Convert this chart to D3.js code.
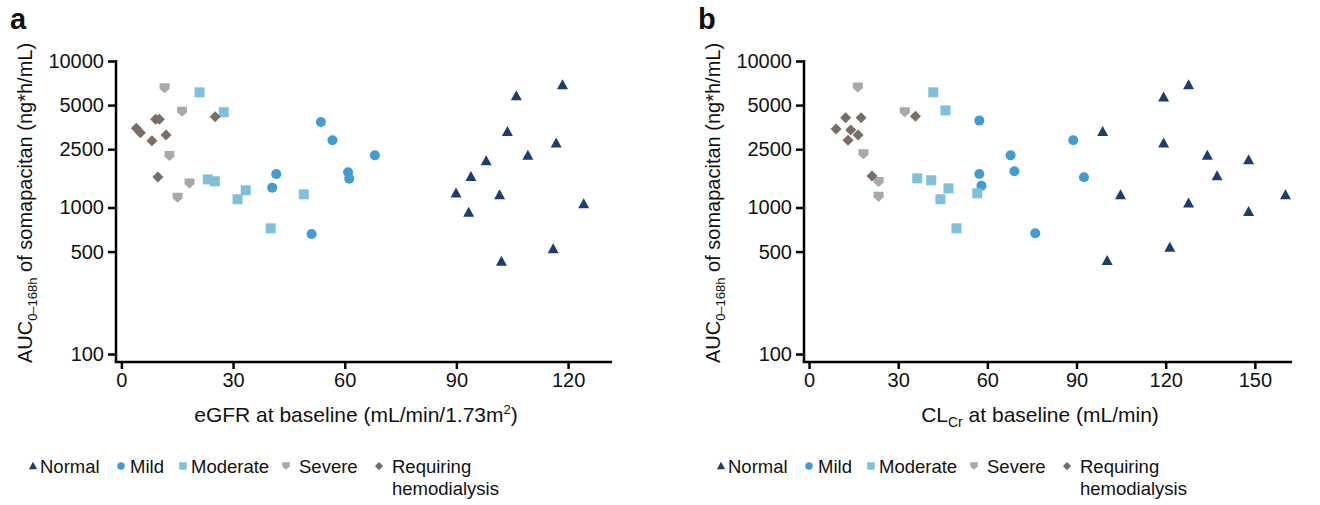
<!DOCTYPE html>
<html>
<head>
<meta charset="utf-8">
<script src="https://cdn.jsdelivr.net/npm/d3@7"></script>
<style>
  body { margin: 0; background: #fff; }
  svg text { font-family: "Liberation Sans", Arial, sans-serif; fill: #111; }
</style>
</head>
<body>
<div id="chart"></div>
<script>
// groups + legend labels
const groups = ["Normal", "Mild", "Moderate", "Severe", "Requiring hemodialysis"];
const colors = ["#1e3c6e", "#409cd3", "#7fc0da", "#a9a9a9", "#7a6d66"];

const yTicks = [100, 500, 1000, 2500, 5000, 10000];
const xTicksA = [0, 30, 60, 90, 120];
const xTicksB = [0, 30, 60, 90, 120, 150];

// panel a: [eGFR, AUC]
const normalA = [[118.5, 6850], [106.1, 5770], [103.7, 3290], [116.8, 2740], [109.2, 2260], [98.0, 2075],
  [93.9, 1620], [89.9, 1250], [101.6, 1217], [124.2, 1057], [93.3, 922], [116.0, 521], [102.1, 427]];
const mildA = [[41.6, 1690], [40.5, 1366], [53.6, 3835], [56.7, 2877], [68.1, 2270], [60.9, 1738], [61.2, 1574], [51.1, 659]];
const moderateA = [[21.0, 6110], [27.5, 4470], [23.2, 1556], [25.1, 1510], [33.4, 1310], [31.2, 1137], [40.1, 721], [49.0, 1230]];
const severeA = [[11.6, 6520], [16.3, 4510], [12.9, 2250], [18.3, 1460], [15.1, 1167]];
const dialysisA = [[9.2, 4000], [10.2, 4000], [25.2, 4170], [4.0, 3475], [5.1, 3240], [8.2, 2860], [12.0, 3125], [9.8, 1616]];

// panel b: [CLcr, AUC]
const normalB = [[127.7, 6850], [119.3, 5650], [98.8, 3290], [119.3, 2740], [134.0, 2260], [147.9, 2110], [137.3, 1642],
  [104.8, 1217], [160.3, 1217], [127.7, 1068], [147.9, 936], [121.4, 532], [100.3, 433]];
const mildB = [[57.3, 3918], [88.9, 2877], [67.8, 2270], [57.3, 1693], [69.1, 1766], [58.0, 1410], [92.5, 1608], [76.1, 667]];
const moderateB = [[41.8, 6110], [45.9, 4600], [36.4, 1582], [41.1, 1534], [46.9, 1351], [44.2, 1137], [49.6, 721], [56.6, 1250]];
const severeB = [[16.4, 6606], [32.2, 4470], [18.3, 2306], [23.4, 1494], [23.4, 1186]];
const dialysisB = [[12.3, 4100], [17.5, 4100], [9.1, 3434], [14.0, 3380], [16.5, 3127], [13.1, 2877], [21.2, 1642], [35.8, 4190]];

const W = 1320, H = 505;
const svg = d3.select("#chart").append("svg").attr("width", W).attr("height", H);

// marker shapes
function shape(i, s) {
  if (i === 0) return `M0,${-s * 0.58}L${s * 0.55},${s * 0.42}L${-s * 0.55},${s * 0.42}Z`;
  if (i === 1) return d3.symbol(d3.symbolCircle, Math.PI * (s / 2) * (s / 2))();
  if (i === 2) return `M${-s / 2},${-s / 2}h${s}v${s}h${-s}Z`;
  if (i === 3) return `M${-s / 2},${-s / 2}h${s}v${s * 0.55}L0,${s / 2}L${-s / 2},${s * 0.05}Z`;
  return `M0,${-s * 0.55}L${s * 0.55},0L0,${s * 0.55}L${-s * 0.55},0Z`;
}

function drawPanel(o) {
  const g = svg.append("g");
  var x = d3.scaleLinear().domain(o.xDomain).range([o.left, o.right]);
  var y = d3.scaleLog().domain([100, 10000]).range([354, 61]);
  const xAxisY = 362;

  // y axis
  const ya = g.append("g").attr("transform", `translate(${o.left},0)`)
    .call(d3.axisLeft(y).tickValues(yTicks).tickFormat(d3.format("d")).tickSize(8).tickPadding(4));
  ya.select(".domain").remove();
  ya.selectAll(".tick line").attr("stroke", "#000").attr("stroke-width", 2.5);
  ya.selectAll(".tick text").style("font-size", "20px");
  g.append("line").attr("x1", o.left).attr("x2", o.left).attr("y1", y(10000) - 1).attr("y2", xAxisY)
    .attr("stroke", "#000").attr("stroke-width", 2.5);

  // x axis
  const xa = g.append("g").attr("transform", `translate(0,${xAxisY})`)
    .call(d3.axisBottom(x).tickValues(o.xTicks).tickSize(7).tickPadding(4));
  xa.select(".domain").remove();
  xa.selectAll(".tick line").attr("stroke", "#000").attr("stroke-width", 2.5);
  xa.selectAll(".tick text").style("font-size", "20px");
  g.append("line").attr("x1", o.left - 1.25).attr("x2", o.right).attr("y1", xAxisY).attr("y2", xAxisY)
    .attr("stroke", "#000").attr("stroke-width", 2.5);

  // points
  o.series.forEach(function(data, i) {
    g.append("g").selectAll("path").data(data).enter().append("path")
      .attr("d", shape(i, 10))
      .attr("transform", d => `translate(${x(d[0])},${y(d[1])})`)
      .attr("fill", colors[i]);
  });

  // x title
  const xt = g.append("text").attr("x", (o.left + o.right) / 2 - 8).attr("y", 422)
    .attr("text-anchor", "middle").style("font-size", "21px");
  o.xTitle(xt);

  // y title
  const yt = g.append("text").attr("transform", `translate(${o.left - 84},${203}) rotate(-90)`)
    .attr("text-anchor", "middle").style("font-size", "20px");
  yt.append("tspan").text("AUC");
  yt.append("tspan").attr("dy", 5).style("font-size", "13px").text("0\u2013168h");
  yt.append("tspan").attr("dy", -5).text(" of somapacitan (ng*h/mL)");

  // panel letter
  g.append("text").attr("x", o.left - 106).attr("y", 29).style("font-size", "29px").style("font-weight", "bold").text(o.letter);

  // legend
  const lg = g.append("g").attr("transform", `translate(${o.left - 83},0)`);
  const legX = [0, 88, 150, 253, 346];
  const txtX = [7, 97, 158, 266, 359];
  groups.forEach(function(name, i) {
    lg.append("path").attr("d", shape(i, 7.5)).attr("transform", `translate(${legX[i]},466)`).attr("fill", colors[i]);
    const t = lg.append("text").attr("x", txtX[i]).attr("y", 473).style("font-size", "18.5px");
    if (i === 4) {
      t.append("tspan").text("Requiring");
      t.append("tspan").attr("x", txtX[i]).attr("dy", 22).text("hemodialysis");
    } else {
      t.text(name);
    }
  });
}

drawPanel({
  letter: "a", left: 116, right: 612, xDomain: [-1.45, 131.8], xTicks: xTicksA,
  series: [normalA, mildA, moderateA, severeA, dialysisA],
  xTitle: function(t) {
    t.append("tspan").text("eGFR at baseline (mL/min/1.73m");
    t.append("tspan").attr("dy", -8).style("font-size", "13px").text("2");
    t.append("tspan").attr("dy", 8).text(")");
  }
});

drawPanel({
  letter: "b", left: 804, right: 1292, xDomain: [-1.7, 162.5], xTicks: xTicksB,
  series: [normalB, mildB, moderateB, severeB, dialysisB],
  xTitle: function(t) {
    t.append("tspan").text("CL");
    t.append("tspan").attr("dy", 5).style("font-size", "14px").text("Cr");
    t.append("tspan").attr("dy", -5).text(" at baseline (mL/min)");
  }
});
</script>
</body>
</html>
